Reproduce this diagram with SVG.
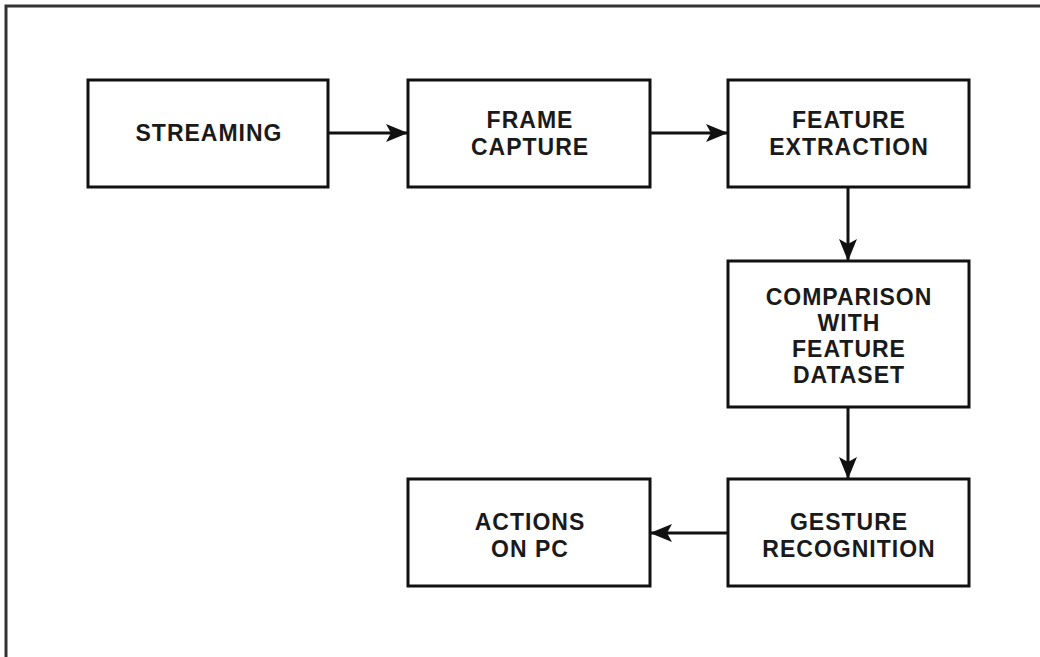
<svg xmlns="http://www.w3.org/2000/svg" width="1040" height="657" viewBox="0 0 1040 657">
<style>
.box{fill:#fff;stroke:#111;stroke-width:3}
.t{font-family:"Liberation Sans",Arial,sans-serif;font-weight:bold;font-size:23px;letter-spacing:1px;fill:#1a1a1a;text-anchor:middle}
.c{stroke:#111;stroke-width:3;fill:none}
</style>
<defs>
<marker id="ah" markerWidth="22" markerHeight="20" refX="21" refY="10" orient="auto" markerUnits="userSpaceOnUse" viewBox="0 0 22 20">
<path d="M0,1 L22,10 L0,19 L5,10 Z" fill="#111"/>
</marker>
</defs>
<rect width="1040" height="657" fill="#fff"/>
<path d="M6,657 V6 H1040" fill="none" stroke="#333" stroke-width="3"/>
<g id="connectors">
<path class="c" d="M328,133 H407" marker-end="url(#ah)"/>
<path class="c" d="M650,133 H727" marker-end="url(#ah)"/>
<path class="c" d="M848,187 V260" marker-end="url(#ah)"/>
<path class="c" d="M848,407 V478" marker-end="url(#ah)"/>
<path class="c" d="M728,533 H651" marker-end="url(#ah)"/>
</g>
<g id="streaming"><rect class="box" x="88" y="80" width="240" height="107"/><text class="t" x="209" y="141">STREAMING</text></g>
<g id="frame"><rect class="box" x="408" y="80" width="242" height="107"/><text class="t" x="530" y="128">FRAME</text><text class="t" x="530" y="155">CAPTURE</text></g>
<g id="feature"><rect class="box" x="728" y="80" width="241" height="107"/><text class="t" x="849" y="128">FEATURE</text><text class="t" x="849" y="155">EXTRACTION</text></g>
<g id="comparison"><rect class="box" x="728" y="261" width="241" height="146"/><text class="t" x="849" y="305">COMPARISON</text><text class="t" x="849" y="331">WITH</text><text class="t" x="849" y="357">FEATURE</text><text class="t" x="849" y="383">DATASET</text></g>
<g id="gesture"><rect class="box" x="728" y="479" width="241" height="107"/><text class="t" x="849" y="530">GESTURE</text><text class="t" x="849" y="557">RECOGNITION</text></g>
<g id="actions"><rect class="box" x="408" y="479" width="242" height="107"/><text class="t" x="530" y="530">ACTIONS</text><text class="t" x="530" y="557">ON PC</text></g>
</svg>
